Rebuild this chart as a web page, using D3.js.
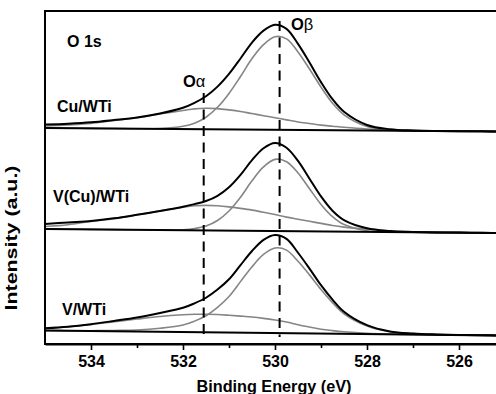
<!DOCTYPE html>
<html>
<head>
<meta charset="utf-8">
<script src="https://cdn.jsdelivr.net/npm/d3@7"></script>
<style>
  html, body { margin: 0; padding: 0; background: #fff; }
  svg { display: block; }
  text { font-family: "Liberation Sans", Arial, sans-serif; font-weight: bold; fill: #000; }
</style>
</head>
<body>
<svg id="chart" width="496" height="394"></svg>
<script>
// Binding energies (eV) at which every O 1s trace is sampled
const energies = [535, 534.5, 534, 533.5, 533, 532.5, 532, 531.75, 531.5, 531.25, 531, 530.75,
  530.5, 530.25, 530, 529.75, 529.5, 529.25, 529, 528.75, 528.5, 528, 527.5, 527, 526.5, 526, 525.5, 525];

// Sample names, top to bottom
const samples = ["Cu/WTi", "V(Cu)/WTi", "V/WTi"];

// Linear background (a.u.) at 535 eV and at 525 eV, stacked offsets included
const bgCu = [216, 212.5];
const bgVCu = [115, 111];
const bgV = [13.5, 8.5];

// O-alpha (surface chemisorbed oxygen) component above background
const alphaCu = [2, 3.3, 5, 8, 11, 15, 18.5, 20.3, 21, 20.7, 19.5, 18, 16, 14, 12, 10, 8, 6.5, 5, 4, 3, 1.5, 0.7, 0.3, 0, 0, 0, 0];
const alphaVCu = [2.5, 4.5, 8, 11, 15, 19, 23, 24.5, 25, 24.7, 23.7, 22.3, 20.7, 18.7, 16.5, 14, 12, 10, 8, 6, 4.5, 2.5, 1, 0.3, 0, 0, 0, 0];
const alphaV = [2.2, 4, 6.5, 9.5, 12.5, 15.3, 17.2, 17.8, 18, 17.8, 17.2, 16.5, 15.7, 14.5, 13, 11.2, 8.5, 6.3, 4.3, 3, 2, 0.8, 0.3, 0, 0, 0, 0, 0];

// O-beta (lattice oxygen) component above background
const betaCu = [0, 0, 0, 0, 0, 0.4, 2.8, 6, 12, 22, 36, 53, 71, 85, 93, 91, 78, 61, 43, 27, 15.5, 4, 0.7, 0, 0, 0, 0, 0];
const betaVCu = [0, 0, 0, 0, 0, 0, 0.5, 1.7, 4.4, 10, 19.6, 33.5, 50, 64, 71.6, 69.4, 58.3, 42.6, 27, 14.8, 7, 1, 0, 0, 0, 0, 0, 0];
const betaV = [0, 0, 0.3, 0.8, 1.5, 3.5, 7, 11, 16.5, 25, 36, 51, 66, 78.5, 85, 83, 72, 58.5, 44, 31, 20, 8, 2.5, 1, 0.3, 0, 0, 0];

// Measured envelope above background
const envCu = [3.5, 4.5, 6, 8.5, 11.3, 15.4, 21.3, 26.3, 33, 42.7, 55.5, 71, 87, 99, 105, 101, 86, 67.5, 48, 31, 18.5, 5.5, 1.4, 0.3, 0, 0, 0, 0];
const envVCu = [5, 6.8, 8.5, 11.3, 15, 19, 23.5, 26.2, 29.4, 34.7, 43.3, 55.8, 70.7, 82.7, 88.1, 83.4, 70.3, 52.6, 35, 20.8, 11.5, 3.5, 1, 0.3, 0, 0, 0, 0];
const envV = [2.2, 4, 6.8, 10.3, 14, 18.8, 24.2, 28.8, 34.5, 42.8, 53.2, 67.5, 81.7, 93, 98, 94.2, 80.5, 64.8, 48.3, 34, 22, 8.8, 2.8, 1, 0.3, 0, 0, 0];

// Peak positions marked by dashed guides
const markerNames = ["Oα", "Oβ"];
const markerEnergies = [531.55, 529.9];

// Axis ticks
const majorTicks = [534, 532, 530, 528, 526];
const minorTicks = [533, 531, 529, 527, 525];

const svg = d3.select("#chart");

const x = d3.scaleLinear().domain([535, 525]).range([45, 505]);
const y = d3.scaleLinear().domain([0, 333]).range([344, 11]);

const panels = [
  { name: samples[0], bg: bgCu, alpha: alphaCu, beta: betaCu, env: envCu, lx: 57, ly: 112 },
  { name: samples[1], bg: bgVCu, alpha: alphaVCu, beta: betaVCu, env: envVCu, lx: 53, ly: 202 },
  { name: samples[2], bg: bgV, alpha: alphaV, beta: betaV, env: envV, lx: 62, ly: 315 }
];

svg.append("clipPath").attr("id", "plotClip")
  .append("rect").attr("x", 45).attr("y", 11).attr("width", 460).attr("height", 333);

const plot = svg.append("g").attr("clip-path", "url(#plotClip)");

panels.forEach(p => {
  const bgScale = d3.scaleLinear().domain([535, 525]).range(p.bg);
  const line = vals => d3.line()
    .x((d, i) => x(energies[i]))
    .y((d, i) => y(bgScale(energies[i]) + vals[i]))
    .curve(d3.curveCatmullRom.alpha(0.5))(vals);

  // fitted components
  [p.alpha, p.beta].forEach(vals => {
    plot.append("path").attr("d", line(vals))
      .attr("fill", "none").attr("stroke", "#858585").attr("stroke-width", 1.6);
  });

  // background
  plot.append("line")
    .attr("x1", x(535)).attr("x2", x(525))
    .attr("y1", y(p.bg[0])).attr("y2", y(p.bg[1]))
    .attr("stroke", "#000").attr("stroke-width", 2);

  // envelope
  plot.append("path").attr("d", line(p.env))
    .attr("fill", "none").attr("stroke", "#000").attr("stroke-width", 2);

  svg.append("text").attr("x", p.lx).attr("y", p.ly)
    .attr("font-size", 16).text(p.name);
});

// dashed peak guides
const guideTops = [93, 21];
markerEnergies.forEach((e, i) => {
  plot.append("line")
    .attr("x1", x(e)).attr("x2", x(e))
    .attr("y1", guideTops[i]).attr("y2", 337)
    .attr("stroke", "#000").attr("stroke-width", 2)
    .attr("stroke-dasharray", "10,6.5");
});

// guide labels: bold O with a regular Greek letter
const guideLabelPos = [{ x: 183, y: 86.5 }, { x: 291, y: 29.5 }];
markerNames.forEach((n, i) => {
  const t = svg.append("text").attr("x", guideLabelPos[i].x).attr("y", guideLabelPos[i].y)
    .attr("font-size", 16.5);
  t.append("tspan").text(n.slice(0, 1));
  t.append("tspan").attr("font-weight", "normal").text(n.slice(1));
});

svg.append("text").attr("x", 67).attr("y", 47).attr("font-size", 16).text("O 1s");

// frame
svg.append("rect").attr("x", 45).attr("y", 11).attr("width", 460).attr("height", 333)
  .attr("fill", "none").attr("stroke", "#000").attr("stroke-width", 2);

// x axis
const axisG = svg.append("g").attr("transform", "translate(0,344)")
  .call(d3.axisBottom(x).tickValues(majorTicks).tickSize(6).tickSizeOuter(0)
    .tickPadding(6).tickFormat(d3.format("d")));
axisG.select(".domain").attr("stroke-width", 2);
axisG.selectAll(".tick line").attr("stroke-width", 1.6);
axisG.selectAll(".tick text")
  .attr("font-size", 16).attr("font-family", "Liberation Sans, Arial, sans-serif")
  .attr("font-weight", "bold");

const minorG = svg.append("g").attr("transform", "translate(0,344)")
  .call(d3.axisBottom(x).tickValues(minorTicks).tickSize(4).tickSizeOuter(0).tickFormat(""));
minorG.select(".domain").remove();
minorG.selectAll(".tick line").attr("stroke-width", 1.6);

// axis titles
svg.append("text").attr("x", 274).attr("y", 392).attr("text-anchor", "middle")
  .attr("font-size", 16.5).attr("textLength", 155).attr("lengthAdjust", "spacingAndGlyphs")
  .text("Binding Energy (eV)");

svg.append("text").attr("transform", "translate(17,238) rotate(-90)")
  .attr("text-anchor", "middle").attr("font-size", 16.5)
  .attr("textLength", 145).attr("lengthAdjust", "spacingAndGlyphs")
  .text("Intensity (a.u.)");
</script>
</body>
</html>
